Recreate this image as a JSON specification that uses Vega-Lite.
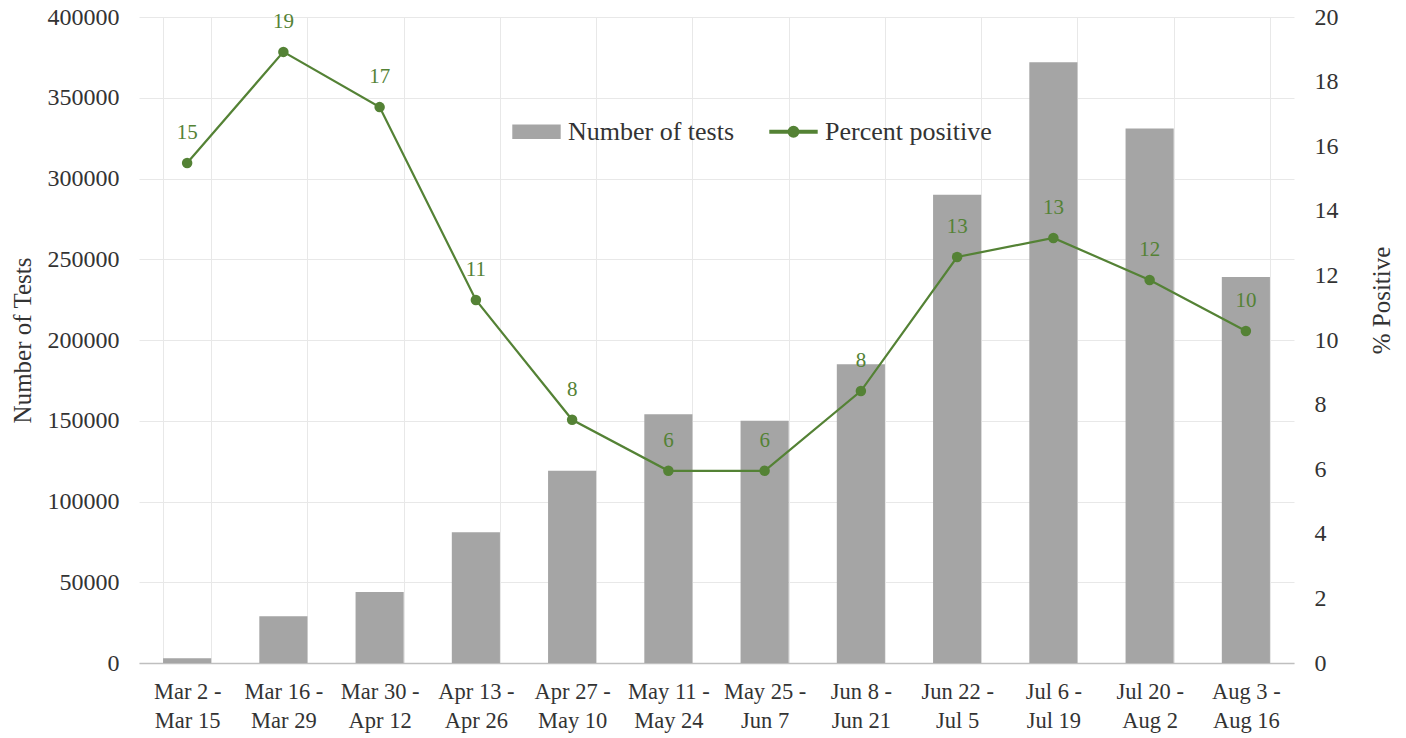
{
  "$schema": "https://vega.github.io/schema/vega-lite/v6.json",
  "width": 1155,
  "height": 646,
  "autosize": {"type": "none"},
  "padding": {"left": 139, "top": 17, "right": 112, "bottom": 75},
  "background": "white",
  "config": {
    "font": "Liberation Serif",
    "view": {"stroke": null},
    "axis": {"labelColor": "#333333", "titleColor": "#333333", "titleFontWeight": "normal", "labelFontSize": 24, "titleFontSize": 25, "labelFont": "Liberation Serif", "titleFont": "Liberation Serif"}
  },
  "data": {
    "values": [
      {"period": "Mar 2 - Mar 15", "tests": 3000, "pct": 15.48},
      {"period": "Mar 16 - Mar 29", "tests": 29000, "pct": 18.92},
      {"period": "Mar 30 - Apr 12", "tests": 44000, "pct": 17.21},
      {"period": "Apr 13 - Apr 26", "tests": 81000, "pct": 11.24},
      {"period": "Apr 27 - May 10", "tests": 119000, "pct": 7.53},
      {"period": "May 11 - May 24", "tests": 154000, "pct": 5.95},
      {"period": "May 25 - Jun 7", "tests": 150000, "pct": 5.95},
      {"period": "Jun 8 - Jun 21", "tests": 185000, "pct": 8.42},
      {"period": "Jun 22 - Jul 5", "tests": 290000, "pct": 12.57},
      {"period": "Jul 6 - Jul 19", "tests": 372000, "pct": 13.16},
      {"period": "Jul 20 - Aug 2", "tests": 331000, "pct": 11.86},
      {"period": "Aug 3 - Aug 16", "tests": 239000, "pct": 10.28}
    ]
  },
  "encoding": {
    "x": {
      "field": "period",
      "type": "nominal",
      "sort": null,
      "scale": {"paddingInner": 0.5, "paddingOuter": 0.25},
      "axis": {
        "title": null,
        "labelAngle": 0,
        "labelExpr": "datum.label ? [split(datum.label, ' - ')[0] + ' -', split(datum.label, ' - ')[1]] : ''",
        "labelFontSize": 22.5,
        "labelLineHeight": 29,
        "labelPadding": 17,
        "ticks": false,
        "domainColor": "#bfbfbf",
        "domainWidth": 1.5,
        "grid": true,
        "gridColor": "#e8e8e8",
        "tickBand": "extent"
      }
    }
  },
  "layer": [
    {
      "mark": {"type": "bar", "color": "#a5a5a5"},
      "encoding": {
        "y": {
          "field": "tests",
          "type": "quantitative",
          "scale": {"domain": [0, 400000]},
          "axis": {
            "title": "Number of Tests",
            "values": [0, 50000, 100000, 150000, 200000, 250000, 300000, 350000, 400000],
            "format": "d",
            "ticks": false,
            "domain": false,
            "labelPadding": 20,
            "titlePadding": 12,
            "gridColor": "#e8e8e8"
          }
        },
        "color": {
          "datum": "Number of tests",
          "scale": {"domain": ["Number of tests", "Percent positive"], "range": ["#a5a5a5", "#548235"]},
          "legend": {
            "title": null,
            "orient": "none",
            "legendX": 373,
            "legendY": 90,
            "direction": "horizontal",
            "labelFontSize": 26,
            "labelLimit": 0,
            "labelColor": "#333333",
            "labelFont": "Liberation Serif",
            "columnPadding": 32,
            "labelOffset": 7,
            "symbolSize": 2200,
            "encode": {
              "symbols": {
                "update": {
                  "shape": {"signal": "datum.value === 'Number of tests' ? 'M-1,-0.28H1V0.28H-1Z' : 'M-1,-0.05H1V0.05H-1Z M0.22,0A0.22,0.22 0 1,1 -0.22,0A0.22,0.22 0 1,1 0.22,0Z'"},
                  "fill": {"signal": "datum.value === 'Number of tests' ? '#a5a5a5' : '#548235'"},
                  "stroke": {"value": "transparent"},
                  "opacity": {"value": 1},
                  "size": {"value": 2200}
                }
              }
            }
          }
        }
      }
    },
    {
      "encoding": {
        "y": {
          "field": "pct",
          "type": "quantitative",
          "scale": {"domain": [0, 20]},
          "axis": {
            "orient": "right",
            "title": "% Positive",
            "titleAngle": 270,
            "titleY": 283,
            "values": [0, 2, 4, 6, 8, 10, 12, 14, 16, 18, 20],
            "grid": false,
            "ticks": false,
            "domain": false,
            "labelPadding": 20,
            "titlePadding": 56
          }
        }
      },
      "layer": [
        {
          "mark": {"type": "line", "strokeWidth": 2.2},
          "encoding": {"color": {"datum": "Percent positive"}}
        },
        {
          "mark": {"type": "point", "filled": true, "size": 110, "opacity": 1},
          "encoding": {"color": {"datum": "Percent positive"}}
        },
        {
          "mark": {"type": "text", "dy": -30, "fontSize": 21, "color": "#548235", "font": "Liberation Serif"},
          "encoding": {"text": {"field": "pct", "type": "quantitative", "format": ".0f"}}
        }
      ]
    }
  ],
  "resolve": {"scale": {"y": "independent"}}
}
